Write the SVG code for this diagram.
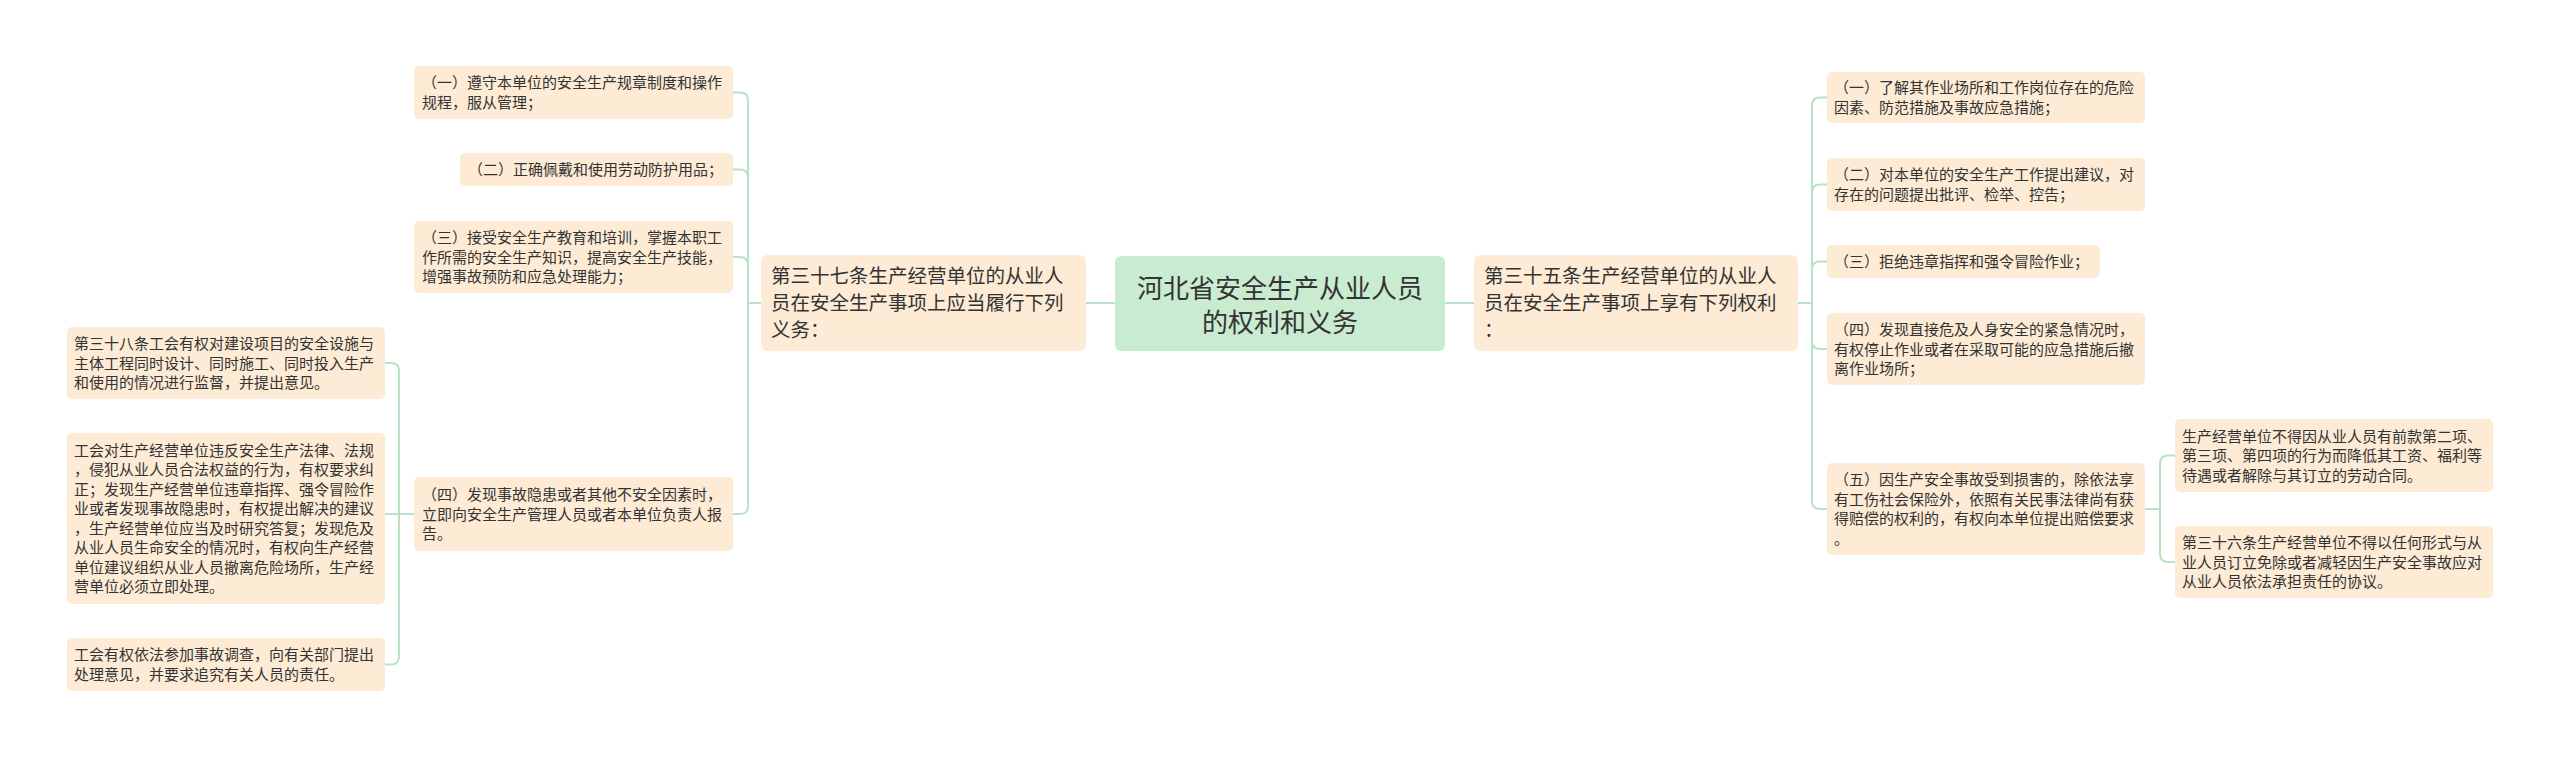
<svg xmlns="http://www.w3.org/2000/svg" width="2560" height="757" viewBox="0 0 2560 757">
<style>
.bg{fill:#ffffff}
.box{fill:#fdebd5}
.root{fill:#c9ebcf}
.t{font-family:"Noto Sans CJK SC","Noto Sans",sans-serif;font-size:15px;fill:#333333}
.t1{font-family:"Noto Sans CJK SC","Noto Sans",sans-serif;font-size:19.5px;fill:#333333}
.tr{font-family:"Noto Sans CJK SC","Noto Sans",sans-serif;font-size:26px;fill:#333333;text-anchor:middle}
.c{fill:none;stroke:#b9e2c6;stroke-width:2}
</style>
<rect class="bg" x="0" y="0" width="2560" height="757"/>
<g id="connectors">
<path class="c" d="M1115 303 H1086"/>
<path class="c" d="M1445 303 H1474"/>
<path class="c" d="M761 303 H748 V100.5 Q748 92.5 740 92.5 H733"/>
<path class="c" d="M748 303 V177.5 Q748 169.5 740 169.5 H733"/>
<path class="c" d="M748 303 V265 Q748 257 740 257 H733"/>
<path class="c" d="M748 303 V506 Q748 514 740 514 H733"/>
<path class="c" d="M414 514 H399 V371 Q399 363 391 363 H385"/>
<path class="c" d="M399 514 H385"/>
<path class="c" d="M399 514 V656.5 Q399 664.5 391 664.5 H385"/>
<path class="c" d="M1798 303 H1812 V105.5 Q1812 97.5 1820 97.5 H1827"/>
<path class="c" d="M1812 303 V192.5 Q1812 184.5 1820 184.5 H1827"/>
<path class="c" d="M1812 303 V269.5 Q1812 261.5 1820 261.5 H1827"/>
<path class="c" d="M1812 303 V341 Q1812 349 1820 349 H1827"/>
<path class="c" d="M1812 303 V501 Q1812 509 1820 509 H1827"/>
<path class="c" d="M2145 509 H2160 V463.5 Q2160 455.5 2168 455.5 H2175"/>
<path class="c" d="M2160 509 V554 Q2160 562 2168 562 H2175"/>
</g>
<g id="root">
<rect class="root" x="1115" y="256" width="330" height="95" rx="6"/>
<text class="tr"><tspan x="1280" y="298">河北省安全生产从业人员</tspan><tspan x="1280" y="332">的权利和义务</tspan></text>
</g>
<g id="left-l1">
<rect class="box" x="761" y="255" width="325" height="96" rx="6"/>
<text class="t1"><tspan x="771" y="283">第三十七条生产经营单位的从业人</tspan><tspan x="771" y="310">员在安全生产事项上应当履行下列</tspan><tspan x="771" y="337">义务：</tspan></text>
</g>
<g id="duty-1">
<rect class="box" x="414" y="66" width="319" height="53" rx="5"/>
<text class="t"><tspan x="422" y="88.25">（一）遵守本单位的安全生产规章制度和操作</tspan><tspan x="422" y="107.75">规程，服从管理；</tspan></text>
</g>
<g id="duty-2">
<rect class="box" x="460" y="153" width="273" height="33" rx="5"/>
<text class="t"><tspan x="468" y="175">（二）正确佩戴和使用劳动防护用品；</tspan></text>
</g>
<g id="duty-3">
<rect class="box" x="414" y="221" width="319" height="72" rx="5"/>
<text class="t"><tspan x="422" y="243">（三）接受安全生产教育和培训，掌握本职工</tspan><tspan x="422" y="262.5">作所需的安全生产知识，提高安全生产技能，</tspan><tspan x="422" y="282">增强事故预防和应急处理能力；</tspan></text>
</g>
<g id="duty-4">
<rect class="box" x="414" y="477" width="319" height="74" rx="5"/>
<text class="t"><tspan x="422" y="500">（四）发现事故隐患或者其他不安全因素时，</tspan><tspan x="422" y="519.5">立即向安全生产管理人员或者本单位负责人报</tspan><tspan x="422" y="539">告。</tspan></text>
</g>
<g id="union-1">
<rect class="box" x="67" y="327" width="318" height="72" rx="5"/>
<text class="t"><tspan x="74" y="349">第三十八条工会有权对建设项目的安全设施与</tspan><tspan x="74" y="368.5">主体工程同时设计、同时施工、同时投入生产</tspan><tspan x="74" y="388">和使用的情况进行监督，并提出意见。</tspan></text>
</g>
<g id="union-2">
<rect class="box" x="67" y="433" width="318" height="171" rx="5"/>
<text class="t"><tspan x="74" y="455.75">工会对生产经营单位违反安全生产法律、法规</tspan><tspan x="74" y="475.25">，侵犯从业人员合法权益的行为，有权要求纠</tspan><tspan x="74" y="494.75">正；发现生产经营单位违章指挥、强令冒险作</tspan><tspan x="74" y="514.25">业或者发现事故隐患时，有权提出解决的建议</tspan><tspan x="74" y="533.75">，生产经营单位应当及时研究答复；发现危及</tspan><tspan x="74" y="553.25">从业人员生命安全的情况时，有权向生产经营</tspan><tspan x="74" y="572.75">单位建议组织从业人员撤离危险场所，生产经</tspan><tspan x="74" y="592.25">营单位必须立即处理。</tspan></text>
</g>
<g id="union-3">
<rect class="box" x="67" y="638" width="318" height="53" rx="5"/>
<text class="t"><tspan x="74" y="660.25">工会有权依法参加事故调查，向有关部门提出</tspan><tspan x="74" y="679.75">处理意见，并要求追究有关人员的责任。</tspan></text>
</g>
<g id="right-l1">
<rect class="box" x="1474" y="255" width="324" height="96" rx="6"/>
<text class="t1"><tspan x="1484" y="283">第三十五条生产经营单位的从业人</tspan><tspan x="1484" y="310">员在安全生产事项上享有下列权利</tspan><tspan x="1484" y="337">：</tspan></text>
</g>
<g id="right-1">
<rect class="box" x="1827" y="72" width="318" height="51" rx="5"/>
<text class="t"><tspan x="1834" y="93.25">（一）了解其作业场所和工作岗位存在的危险</tspan><tspan x="1834" y="112.75">因素、防范措施及事故应急措施；</tspan></text>
</g>
<g id="right-2">
<rect class="box" x="1827" y="158" width="318" height="53" rx="5"/>
<text class="t"><tspan x="1834" y="180.25">（二）对本单位的安全生产工作提出建议，对</tspan><tspan x="1834" y="199.75">存在的问题提出批评、检举、控告；</tspan></text>
</g>
<g id="right-3">
<rect class="box" x="1827" y="245" width="273" height="33" rx="5"/>
<text class="t"><tspan x="1834" y="267">（三）拒绝违章指挥和强令冒险作业；</tspan></text>
</g>
<g id="right-4">
<rect class="box" x="1827" y="313" width="318" height="72" rx="5"/>
<text class="t"><tspan x="1834" y="335">（四）发现直接危及人身安全的紧急情况时，</tspan><tspan x="1834" y="354.5">有权停止作业或者在采取可能的应急措施后撤</tspan><tspan x="1834" y="374">离作业场所；</tspan></text>
</g>
<g id="right-5">
<rect class="box" x="1827" y="463" width="318" height="92" rx="5"/>
<text class="t"><tspan x="1834" y="485.25">（五）因生产安全事故受到损害的，除依法享</tspan><tspan x="1834" y="504.75">有工伤社会保险外，依照有关民事法律尚有获</tspan><tspan x="1834" y="524.25">得赔偿的权利的，有权向本单位提出赔偿要求</tspan><tspan x="1834" y="543.75">。</tspan></text>
</g>
<g id="right-5-1">
<rect class="box" x="2175" y="419" width="318" height="73" rx="5"/>
<text class="t"><tspan x="2182" y="441.5">生产经营单位不得因从业人员有前款第二项、</tspan><tspan x="2182" y="461">第三项、第四项的行为而降低其工资、福利等</tspan><tspan x="2182" y="480.5">待遇或者解除与其订立的劳动合同。</tspan></text>
</g>
<g id="right-5-2">
<rect class="box" x="2175" y="526" width="318" height="72" rx="5"/>
<text class="t"><tspan x="2182" y="548">第三十六条生产经营单位不得以任何形式与从</tspan><tspan x="2182" y="567.5">业人员订立免除或者减轻因生产安全事故应对</tspan><tspan x="2182" y="587">从业人员依法承担责任的协议。</tspan></text>
</g>
</svg>
